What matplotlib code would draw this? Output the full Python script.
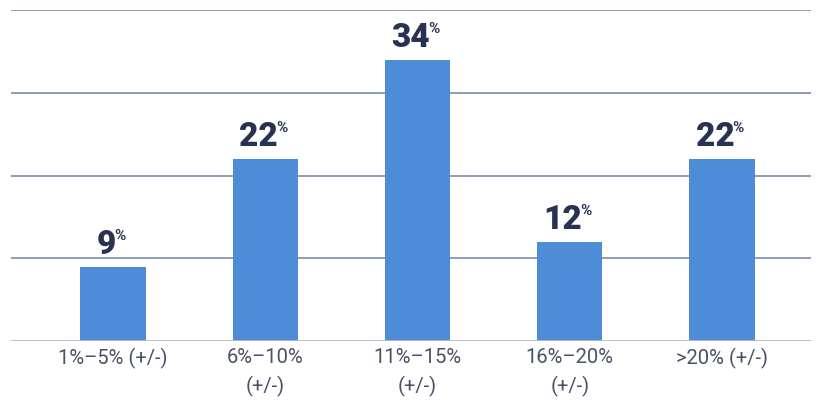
import matplotlib.pyplot as plt

# dane z wykresu
kategorie = ['1%–5% (+/-)', '6%–10%\n(+/-)', '11%–15%\n(+/-)', '16%–20%\n(+/-)', '>20% (+/-)']
wartosci = [9, 22, 34, 12, 22]
siatka_y = [10, 20, 30, 40]

plt.rcParams['font.family'] = ['Roboto', 'DejaVu Sans']

fig = plt.figure(figsize=(8.21, 4.03), dpi=100)
ax = fig.add_axes([11 / 821, 1 - 341 / 403, 800 / 821, 331 / 403])

x = list(range(len(kategorie)))
ax.bar(x, wartosci, width=0.43, color='#4f8cd7', zorder=3)

for g in siatka_y:
    ax.axhline(g, color='#7381a3', linewidth=1.1, zorder=1)
ax.axhline(0, color='#b3b7c3', linewidth=2, zorder=4)

ax.set_xlim(-0.67, 4.585)
ax.set_ylim(0, 40)

# etykiety wartości z małym znakiem %
for xi, v in zip(x, wartosci):
    t = ax.annotate(str(v), xy=(xi, v), xytext=(-5, 4), textcoords='offset points',
                    ha='center', va='bottom', fontsize=24, fontweight='black',
                    color='#283251', zorder=5)
    ax.annotate('%', xy=(1, 1), xycoords=t, xytext=(-1.2, 0), textcoords='offset points',
                ha='left', va='top', fontsize=11, fontweight='bold', color='#283251')

ax.set_xticks(x)
ax.set_xticklabels(kategorie, fontsize=14.5, color='#4a5068', linespacing=1.55)
ax.tick_params(axis='x', length=0, pad=5)
ax.set_yticks([])
for s in ax.spines.values():
    s.set_visible(False)

fig.savefig('out.png', dpi=100)
